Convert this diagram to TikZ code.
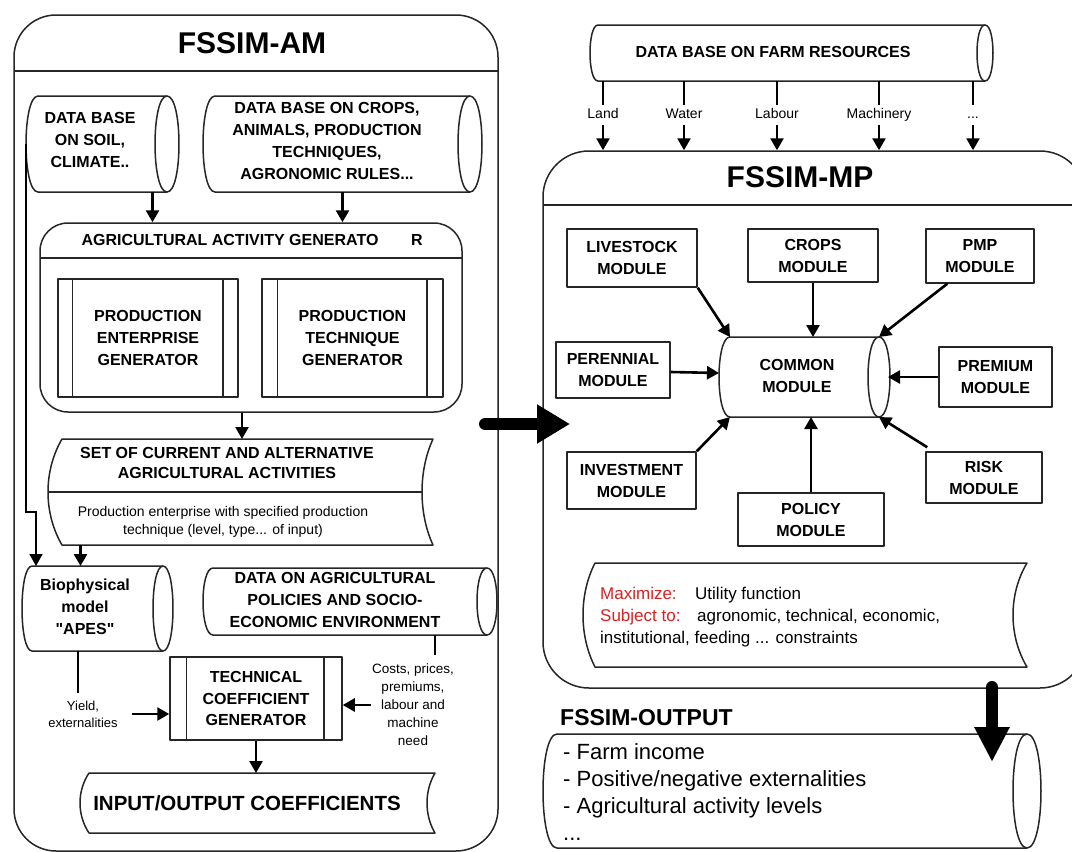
\documentclass[tikz,border=0pt]{standalone}
\usepackage{fontspec}
\setmainfont{Liberation Sans}
\usetikzlibrary{arrows.meta}
\definecolor{redc}{RGB}{215,35,35}
\tikzset{
 boxline/.style={line width=1.5pt, draw=black!85, line join=round},
 arr/.style={line width=2.6pt, -{Triangle[length=12pt,width=13pt]}},
 thinarr/.style={line width=1.5pt, -{Triangle[length=12pt,width=13pt]}},
 bar/.style={line width=2.6pt},
 bigarr/.style={line width=12pt, line cap=round, -{Triangle[length=33pt,width=37pt]}},
 bt/.style={font=\fontsize{16}{22}\selectfont\bfseries, align=center, inner sep=1pt},
 sm/.style={font=\fontsize{14}{18}\selectfont, align=center, inner sep=1pt},
 lab/.style={font=\fontsize{14}{16}\selectfont, inner sep=3pt, text height=10pt, text depth=3pt},
 module/.style={boxline, draw, rectangle, inner sep=0, bt},
 pbox/.style={boxline, draw, rectangle, inner sep=0, bt},
 frame/.style={boxline, draw, inner sep=0},
 mx/.style={anchor=base west, inner sep=0, font=\fontsize{17}{17}\selectfont},
 outl/.style={anchor=base west, inner sep=0, font=\fontsize{22}{22}\selectfont},
}
% horizontal cylinder: name, x left (bulge), x centre of right ellipse, y top, y bottom, x radius
\newcommand\hcyl[6]{%
 \pgfmathsetmacro\cyxa{#2+#6}%
 \pgfmathsetmacro\cyym{(#4+#5)/2}%
 \pgfmathsetmacro\cyxm{(\cyxa+#3)/2}%
 \pgfmathsetmacro\cyw{#3-\cyxa}%
 \pgfmathsetmacro\cyh{#5-#4}%
 \pgfmathsetmacro\cyk{1.333*#6}%
 \node[inner sep=0,outer sep=0,minimum width=\cyw pt,minimum height=\cyh pt] (#1) at (\cyxm,\cyym) {};%
 \draw[boxline] (\cyxa,#5) .. controls ({\cyxa-\cyk},#5) and ({\cyxa-\cyk},#4) .. (\cyxa,#4) -- (#3,#4) .. controls ({#3+\cyk},#4) and ({#3+\cyk},#5) .. (#3,#5) -- cycle;%
 \draw[boxline] (#3,#5) .. controls ({#3-\cyk},#5) and ({#3-\cyk},#4) .. (#3,#4);%
}
% stored data: name, x left, x right, y top, y bottom, left bulge, right bulge
\newcommand\sdata[7]{%
 \pgfmathsetmacro\qxm{(#2+#3)/2}%
 \pgfmathsetmacro\qym{(#4+#5)/2}%
 \pgfmathsetmacro\qw{#3-#2}%
 \pgfmathsetmacro\qh{#5-#4}%
 \pgfmathsetmacro\qra{#3-1.333*#7}%
 \pgfmathsetmacro\qla{#2-1.333*#6}%
 \pgfmathsetmacro\qyu{#4+0.3*\qh}%
 \pgfmathsetmacro\qyd{#5-0.3*\qh}%
 \node[inner sep=0,outer sep=0,minimum width=\qw pt,minimum height=\qh pt] (#1) at (\qxm,\qym) {};%
 \draw[boxline] (#2,#4) -- (#3,#4) .. controls (\qra,\qyu) and (\qra,\qyd) .. (#3,#5) -- (#2,#5) .. controls (\qla,\qyd) and (\qla,\qyu) .. cycle;%
}
\begin{document}
\begin{tikzpicture}[x=1pt,y=-1pt]
\useasboundingbox (0,0) rectangle (1072,852);
\clip (0,0) rectangle (1072,852);
\fill[white] (0,0) rectangle (1072,852);

% ================= FSSIM-AM =================
\node[frame, rounded corners=42pt, minimum width=484pt, minimum height=836pt] (am) at (256,433) {};
\draw[boxline] (14,71) -- (498,71);
\node[font=\fontsize{30}{30}\selectfont\bfseries] (amtitle) at (252,43) {FSSIM-AM};

\hcyl{soil}{26}{167}{96}{192}{12}
\node[bt] (soiltxt) at (90,140) {DATA BASE\\ON SOIL,\\CLIMATE..};
\hcyl{crops}{203}{470}{96}{192}{12}
\node[bt] (cropstxt) at (327,141) {DATA BASE ON CROPS,\\ANIMALS, PRODUCTION\\TECHNIQUES,\\AGRONOMIC RULES...};

\node[frame, rounded corners=28pt, minimum width=422pt, minimum height=189pt] (aag) at (251,317.5) {};
\draw[boxline] (40,258) -- (462,258);
\node[bt] (aagt) at (230,240) {AGRICULTURAL ACTIVITY GENERATO};
\node[bt] (aagr) at (417,240) {R};

\node[pbox, minimum width=180pt, minimum height=118pt] (peg) at (148,338) {PRODUCTION\\ENTERPRISE\\GENERATOR};
\draw[boxline] ([xshift=15pt]peg.north west) -- ([xshift=15pt]peg.south west);
\draw[boxline] ([xshift=-16pt]peg.north east) -- ([xshift=-16pt]peg.south east);
\node[pbox, minimum width=181pt, minimum height=118pt] (ptg) at (352.5,338) {PRODUCTION\\TECHNIQUE\\GENERATOR};
\draw[boxline] ([xshift=16pt]ptg.north west) -- ([xshift=16pt]ptg.south west);
\draw[boxline] ([xshift=-17pt]ptg.north east) -- ([xshift=-17pt]ptg.south east);

\draw[arr] ([xshift=50pt]soil.south) -- ([xshift=50pt]soil.south |- aag.north);
\draw[arr] (crops.south) -- (crops.south |- aag.north);

\sdata{set}{62}{433}{439}{545}{14}{11}
\draw[boxline] (48,492) -- (422,492);
\node[bt, font=\fontsize{16}{20}\selectfont\bfseries] (settxt) at (227,463) {SET OF CURRENT AND ALTERNATIVE\\AGRICULTURAL ACTIVITIES};
\node[sm] (setsub) at (223,522) {Production enterprise with specified production\\technique (level, type... of input)};
\draw[arr] ([xshift=-9pt]aag.south) -- ([xshift=-9pt]aag.south |- set.north);

\hcyl{bio}{22}{163}{566}{651}{10}
\node[bt] (biotxt) at (85,607) {Biophysical\\model\\\textquotedbl APES\textquotedbl};
\hcyl{pol}{203}{487}{568}{635}{10}
\node[bt] (poltxt) at (335,600) {DATA ON AGRICULTURAL\\POLICIES AND SOCIO-\\ECONOMIC ENVIRONMENT};

\coordinate (jog) at (36,512);
\draw[thinarr] ([xshift=-12pt]soil.west) |- (jog) -- (jog |- bio.north);
\draw[arr] ([xshift=-167pt]set.south) -- ([xshift=-167pt]set.south |- bio.north);

\node[pbox, minimum width=172pt, minimum height=83pt, font=\fontsize{16}{21.5}\selectfont\bfseries] (tcg) at (256,698.5) {TECHNICAL\\COEFFICIENT\\GENERATOR};
\draw[boxline] ([xshift=17pt]tcg.north west) -- ([xshift=17pt]tcg.south west);
\draw[boxline] ([xshift=-19pt]tcg.north east) -- ([xshift=-19pt]tcg.south east);

\draw[bar] ([xshift=-19.5pt]bio.south) -- ++(0,42);
\node[sm, font=\fontsize{13}{17}\selectfont] (yield) at (83,714) {Yield,\\externalities};
\draw[arr] ([xshift=13pt]yield.east) -- (yield.east -| tcg.west);

\draw[bar] ([xshift=85pt]pol.south) -- ++(0,20);
\node[sm, font=\fontsize{13.5}{18}\selectfont] (costs) at (413,705) {Costs, prices,\\premiums,\\labour and\\machine\\need};
\draw[arr] (costs.west) -- (costs.west -| tcg.east);

\sdata{io}{89}{435}{773}{833}{9}{8}
\node[font=\fontsize{20.5}{24}\selectfont\bfseries] (iotxt) at (247,803) {INPUT/OUTPUT COEFFICIENTS};
\draw[arr] (tcg.south) -- (tcg.south |- io.north);

% ================= FSSIM-MP =================
\hcyl{farm}{590}{985}{25}{81}{8}
\node[bt] (farmtxt) at (773,52) {DATA BASE ON FARM RESOURCES};

\node[frame, rounded corners=46pt, minimum width=543pt, minimum height=537pt] (mp) at (814.5,419.5) {};
\draw[boxline] (543,205) -- (1086,205);
\node[font=\fontsize{30}{30}\selectfont\bfseries] (mptitle) at (800,177) {FSSIM-MP};

\node[lab] (land) at (603,115) {Land};
\node[lab] (water) at (684,115) {Water};
\node[lab] (labour) at (777,115) {Labour};
\node[lab] (mach) at (879,115) {Machinery};
\node[lab] (etc) at (973,115) {...};
\foreach \r in {land,water,labour,mach,etc}{
  \draw[bar] (\r |- farm.south) -- (\r.north);
  \draw[arr] (\r.south) -- (\r |- mp.north);
}

\hcyl{common}{719}{879}{337}{417}{11}
\node[bt] (commontxt) at (797,376) {COMMON\\MODULE};

\node[module, minimum width=130pt, minimum height=58pt] (livestock) at (632,258) {LIVESTOCK\\MODULE};
\node[module, minimum width=130pt, minimum height=53pt] (cropsm) at (813,255.5) {CROPS\\MODULE};
\node[module, minimum width=108pt, minimum height=54pt] (pmp) at (980,256) {PMP\\MODULE};
\node[module, minimum width=114pt, minimum height=56pt] (perennial) at (613,370) {PERENNIAL\\MODULE};
\node[module, minimum width=113pt, minimum height=60pt] (premium) at (995.5,377) {PREMIUM\\MODULE};
\node[module, minimum width=129pt, minimum height=57pt] (investment) at (631.5,480.5) {INVESTMENT\\MODULE};
\node[module, minimum width=146pt, minimum height=53pt] (policy) at (811,519.5) {POLICY\\MODULE};
\node[module, minimum width=116pt, minimum height=51pt] (risk) at (984,477.5) {RISK\\MODULE};

\draw[arr] (livestock.south east) -- (common.north west);
\draw[arr] (cropsm.south) -- (cropsm.south |- common.north);
\draw[arr] ([xshift=22pt]pmp.south west) -- (common.north east);
\draw[arr] ([yshift=-2pt]perennial.east) -- ([xshift=-11pt,yshift=4pt]common.west);
\draw[arr] (premium.west) -- ([xshift=9pt]common.east);
\draw[arr] (investment.north east) -- (common.south west);
\draw[arr] (policy.north) -- (policy.north |- common.south);
\draw[arr] ([xshift=2pt,yshift=4pt]risk.north west) -- (common.south east);

\sdata{maxbox}{595}{1027}{563}{667}{12}{14}
\node[mx, text=redc] (maxl) at (600,599) {Maximize:};
\node[mx] (maxr) at (695,599) {Utility function};
\node[mx, text=redc] (subl) at (600,621) {Subject to:};
\node[mx] (subr) at (697,621) {agronomic, technical, economic,};
\node[mx] (inst) at (600,643) {institutional, feeding ... constraints};

% ================= big arrows =================
\coordinate (bigA) at (485,424);
\coordinate (bigB) at (570,424);
\draw[bigarr] (bigA) -- (bigB);

% ================= FSSIM-OUTPUT =================
\node[anchor=base west, inner sep=0, font=\fontsize{23}{23}\selectfont\bfseries] (outt) at (560,725) {FSSIM-OUTPUT};
\hcyl{out}{543}{1027}{734}{848}{14}
\node[outl] (o1) at (563,759.5) {- Farm income};
\node[outl] (o2) at (563,786.5) {- Positive/negative externalities};
\node[outl] (o3) at (563,813.5) {- Agricultural activity levels};
\node[outl] (o4) at (563,840) {...};

\coordinate (bigC) at (992,687);
\coordinate (bigD) at (992,762);
\draw[bigarr, -{Triangle[length=35pt,width=33pt]}] (bigC) -- (bigD);
\end{tikzpicture}
\end{document}
